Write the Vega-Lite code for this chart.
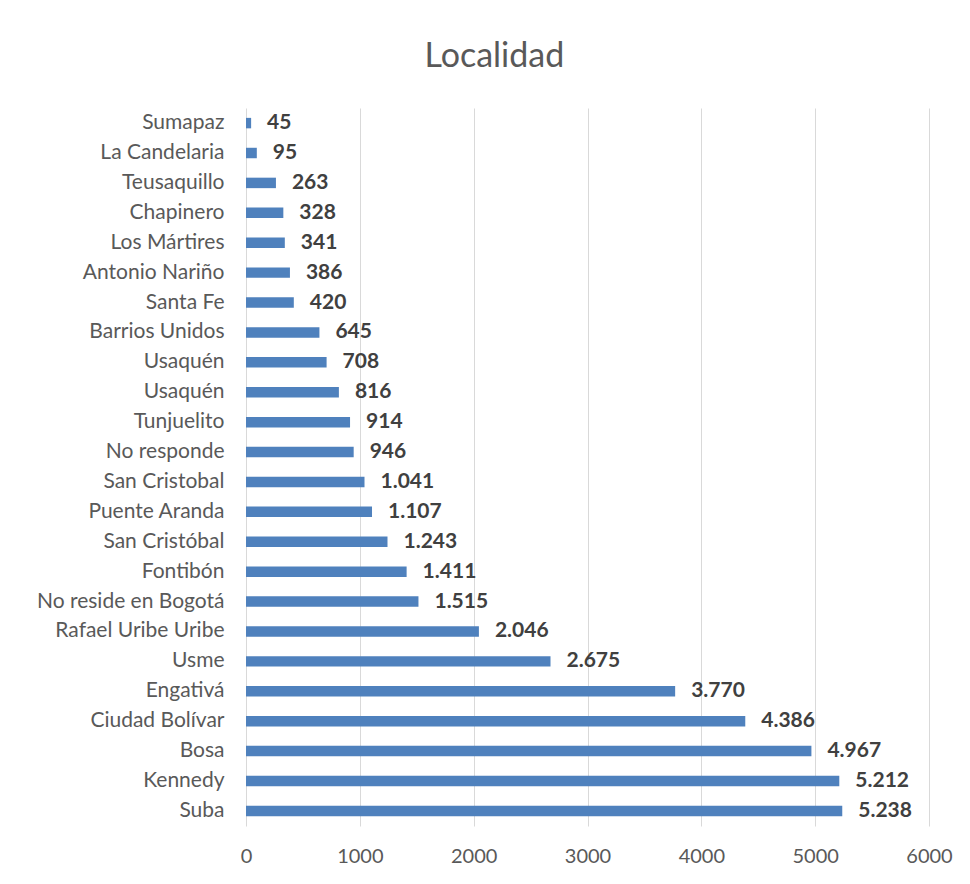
{
  "$schema": "https://vega.github.io/schema/vega-lite/v6.json",
  "width": 683,
  "height": 718,
  "autosize": {"type": "none"},
  "padding": {"left": 246, "top": 108, "right": 41, "bottom": 58},
  "background": "white",
  "config": {
    "locale": {"number": {"decimal": ",", "thousands": ".", "grouping": [3], "currency": ["$", ""]}},
    "view": {"stroke": null},
    "font": "Lato"
  },
  "title": {
    "text": "Localidad",
    "fontSize": 34,
    "font": "Lato",
    "fontWeight": "normal",
    "color": "#595959",
    "anchor": "middle",
    "frame": "bounds",
    "offset": 34
  },
  "data": {
    "values": [
      {"localidad": "Sumapaz", "n": 45},
      {"localidad": "La Candelaria", "n": 95},
      {"localidad": "Teusaquillo", "n": 263},
      {"localidad": "Chapinero", "n": 328},
      {"localidad": "Los Mártires", "n": 341},
      {"localidad": "Antonio Nariño", "n": 386},
      {"localidad": "Santa Fe", "n": 420},
      {"localidad": "Barrios Unidos", "n": 645},
      {"localidad": "Usaquén", "n": 708},
      {"localidad": "Usaquén ", "n": 816},
      {"localidad": "Tunjuelito", "n": 914},
      {"localidad": "No responde", "n": 946},
      {"localidad": "San Cristobal", "n": 1041},
      {"localidad": "Puente Aranda", "n": 1107},
      {"localidad": "San Cristóbal", "n": 1243},
      {"localidad": "Fontibón", "n": 1411},
      {"localidad": "No reside en Bogotá", "n": 1515},
      {"localidad": "Rafael Uribe Uribe", "n": 2046},
      {"localidad": "Usme", "n": 2675},
      {"localidad": "Engativá", "n": 3770},
      {"localidad": "Ciudad Bolívar", "n": 4386},
      {"localidad": "Bosa", "n": 4967},
      {"localidad": "Kennedy", "n": 5212},
      {"localidad": "Suba", "n": 5238}
    ]
  },
  "encoding": {
    "y": {
      "field": "localidad",
      "type": "nominal",
      "sort": null,
      "scale": {"paddingInner": 0.65, "paddingOuter": 0.33},
      "axis": {
        "title": null,
        "ticks": false,
        "domain": false,
        "labelFontSize": 21,
        "labelColor": "#595959",
        "labelPadding": 22,
        "labelLimit": 400,
        "labelFont": "Lato"
      }
    },
    "x": {
      "field": "n",
      "type": "quantitative",
      "scale": {"domain": [0, 6000], "nice": false},
      "axis": {
        "title": null,
        "format": "d",
        "values": [0, 1000, 2000, 3000, 4000, 5000, 6000],
        "ticks": false,
        "domain": false,
        "grid": true,
        "gridColor": "#d9d9d9",
        "gridWidth": 1,
        "labelFlush": false,
        "labelOverlap": false,
        "labelFontSize": 20,
        "labelColor": "#595959",
        "labelPadding": 20,
        "labelFont": "Lato"
      }
    }
  },
  "layer": [
    {"mark": {"type": "bar", "color": "#4F81BD"}},
    {
      "mark": {"type": "text", "align": "left", "baseline": "middle", "dx": 16, "fontSize": 21, "fontWeight": "bold", "color": "#404040", "font": "Lato"},
      "encoding": {"text": {"field": "n", "type": "quantitative", "format": ",d"}}
    }
  ]
}
